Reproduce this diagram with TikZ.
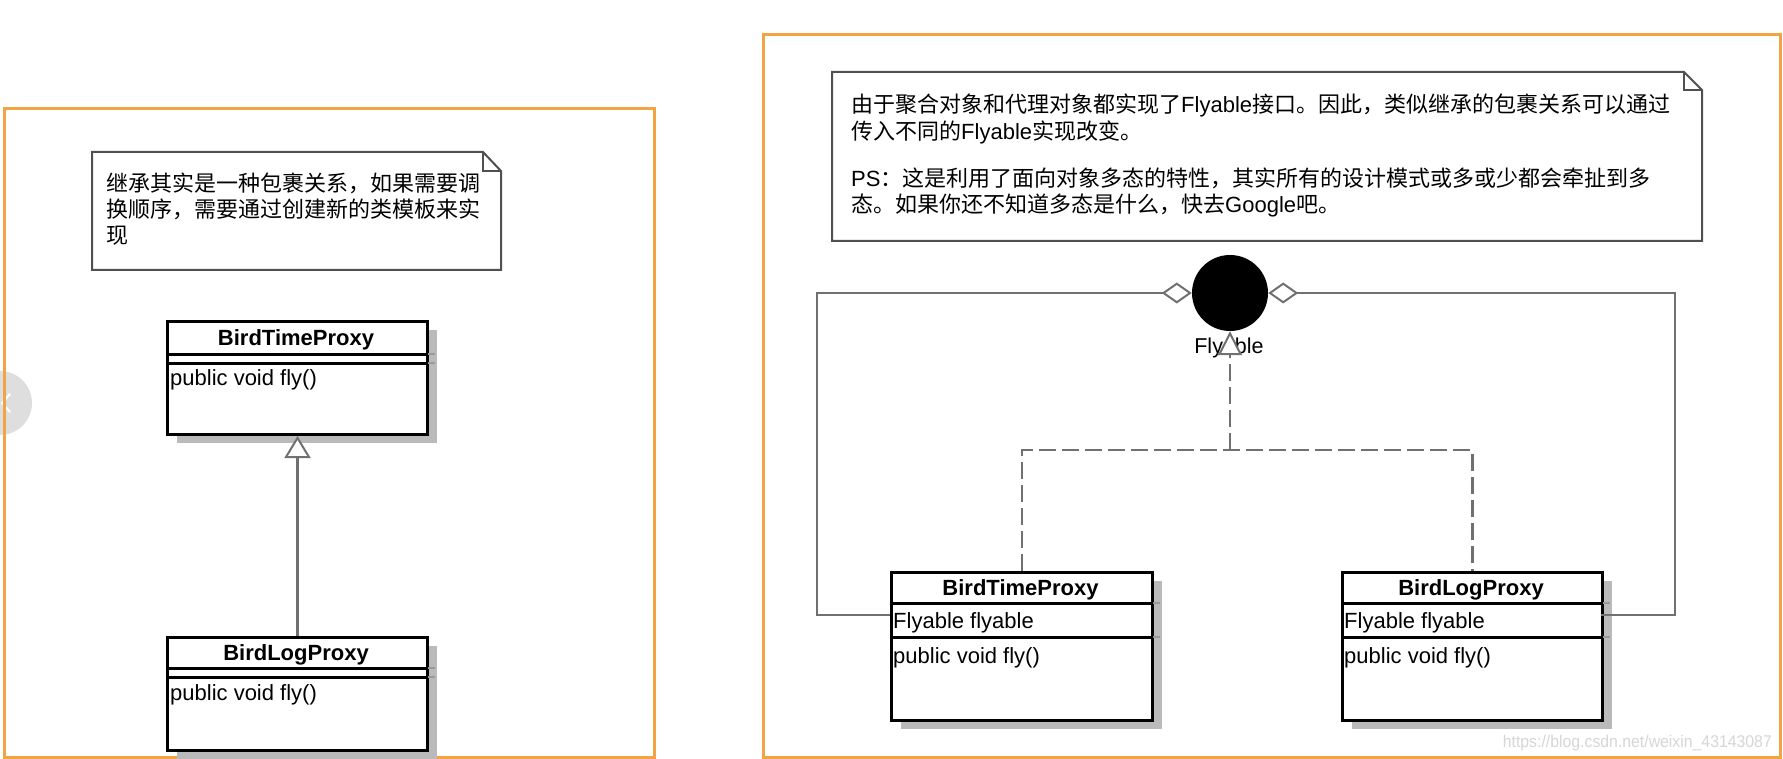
\documentclass[tikz,border=0pt]{standalone}
\usepackage{fontspec}
\setmainfont{Liberation Sans}
\newfontfamily\cjk{Noto Sans CJK SC}
\usetikzlibrary{arrows.meta,shadows}
\definecolor{frameorange}{RGB}{242,163,66}
\definecolor{conn}{RGB}{112,112,112}
\definecolor{notegray}{RGB}{80,80,80}
\tikzset{
  frame/.style={draw=frameorange, line width=3pt},
  cls/.style={draw=black, line width=3pt, fill=white, inner sep=0pt, anchor=north west,
    drop shadow={shadow xshift=9pt, shadow yshift=-8pt, fill=black!27, opacity=1}},
  divider/.style={draw=black, line width=3pt},
  stub/.style={draw=black!40, line width=2pt},
  title/.style={font=\fontsize{22}{26}\selectfont\bfseries, anchor=base, inner sep=0pt},
  member/.style={font=\fontsize{22}{26}\selectfont, anchor=base west, inner sep=0pt},
  notebox/.style={draw=notegray, line width=2pt, fill=white},
  notefold/.style={draw=notegray, line width=1.5pt},
  notetext/.style={font=\fontsize{22}{26}\selectfont, anchor=base west, inner sep=0pt},
  gen/.style={draw=conn, line width=2.5pt, -{Triangle[length=22pt, width=26pt, fill=white, line width=2pt]}},
  real/.style={draw=conn, line width=2.5pt, dash pattern=on 17pt off 6pt},
  realhead/.style={draw=conn, line width=2.5pt, dash pattern=on 17pt off 6pt,
    -{Triangle[length=24pt, width=24pt, fill=white, line width=2pt, sep=0pt]}},
  agg/.style={draw=conn, line width=2.5pt, {Diamond[length=30pt, width=21pt, fill=white, line width=2pt]}-},
  iface/.style={circle, fill=black, inner sep=0pt, minimum size=76pt},
}
\begin{document}
\begin{tikzpicture}[x=1pt, y=-1pt]
\path[use as bounding box, fill=white] (0,0) rectangle (1783,759);

% carousel button artifact
\fill[black!13] (0,403) circle (32);
\draw[white, line width=2pt, line cap=round] (10,394) -- (2,403) -- (10,412);

% frames
\draw[frame] (4,109) rectangle (654,757);
\draw[frame] (763,35) rectangle (1780,757);

% ---------- left note ----------
\draw[notebox] (92,152) -- (483,152) -- (501,171) -- (501,270) -- (92,270) -- cycle;
\draw[notefold] (483,152) -- (483,171) -- (501,171);
\node[notetext] (ln1) at (106,192) {\cjk 继承其实是一种包裹关系，如果需要调};
\node[notetext] (ln2) at (106,218) {\cjk 换顺序，需要通过创建新的类模板来实};
\node[notetext] (ln3) at (106,244) {\cjk 现};

% ---------- left classes ----------
\node[cls, minimum width=260pt, minimum height=113pt] (ltime) at (166,320) {};
\draw[divider] (166,354) -- (426,354);
\draw[divider] (166,363) -- (426,363);
\draw[stub] (428,354) -- (435,354);
\draw[stub] (428,363) -- (435,363);
\node[title] (ltimet) at (296,345) {BirdTimeProxy};
\node[member] (ltimem) at (170,385) {public void fly()};

\node[cls, minimum width=260pt, minimum height=113pt] (llog) at (166,636) {};
\draw[divider] (166,668) -- (426,668);
\draw[divider] (166,677) -- (426,677);
\draw[stub] (428,668) -- (435,668);
\draw[stub] (428,677) -- (435,677);
\node[title] (llogt) at (296,660) {BirdLogProxy};
\node[member] (llogm) at (170,700) {public void fly()};

\draw[gen] (llog.north) -- (ltime.south);

% ---------- right note ----------
\draw[notebox] (832,72) -- (1684,72) -- (1702,90) -- (1702,241) -- (832,241) -- cycle;
\draw[notefold] (1684,72) -- (1684,90) -- (1702,90);
\node[notetext] (rn1) at (851,113) {{\cjk 由于聚合对象和代理对象都实现了}Flyable{\cjk 接口。因此，类似继承的包裹关系可以通过}};
\node[notetext] (rn2) at (851,140) {{\cjk 传入不同的}Flyable{\cjk 实现改变。}};
\node[notetext] (rn3) at (851,187) {PS{\cjk ：这是利用了面向对象多态的特性，其实所有的设计模式或多或少都会牵扯到多}};
\node[notetext] (rn4) at (851,213) {{\cjk 态。如果你还不知道多态是什么，快去}Google{\cjk 吧。}};

% ---------- right classes ----------
\node[cls, minimum width=261pt, minimum height=148pt] (rtime) at (890,571) {};
\draw[divider] (890,603) -- (1151,603);
\draw[divider] (890,637) -- (1151,637);
\draw[stub] (1153,603) -- (1160,603);
\draw[stub] (1153,637) -- (1160,637);
\node[title] (rtimet) at (1020.5,595) {BirdTimeProxy};
\node[member] (rtimea) at (893,628) {Flyable flyable};
\node[member] (rtimem) at (893,663) {public void fly()};

\node[cls, minimum width=260pt, minimum height=148pt] (rlog) at (1341,571) {};
\draw[divider] (1341,603) -- (1601,603);
\draw[divider] (1341,637) -- (1601,637);
\draw[stub] (1603,603) -- (1610,603);
\draw[stub] (1603,637) -- (1610,637);
\node[title] (rlogt) at (1471,595) {BirdLogProxy};
\node[member] (rloga) at (1344,628) {Flyable flyable};
\node[member] (rlogm) at (1344,663) {public void fly()};

% interface
\node[iface] (fly) at (1230,293) {};
\node[font=\fontsize{21.5}{25}\selectfont, anchor=base, inner sep=0pt] (flyl) at (1229,353) {Flyable};

% realization
\coordinate (junc) at (1230,450);
\draw[real] (rtime.north) |- (junc) -| (rlog.north);
\draw[realhead] (junc) -- (fly.south);

% aggregation
\coordinate (lcorner) at (817,615);
\coordinate (rcorner) at (1675,615);
\coordinate (rtA) at (890,615);
\coordinate (rlA) at (1601,615);
\draw[agg] (fly.west) -| (lcorner) -- (rtA);
\draw[agg] (fly.east) -| (rcorner) -- (rlA);

% watermark
\node[font=\fontsize{17}{20}\selectfont, text=black!16, anchor=base east, inner sep=0pt, xscale=0.93] (wm) at (1772,747) {https://blog.csdn.net/weixin\_43143087};
\end{tikzpicture}
\end{document}
